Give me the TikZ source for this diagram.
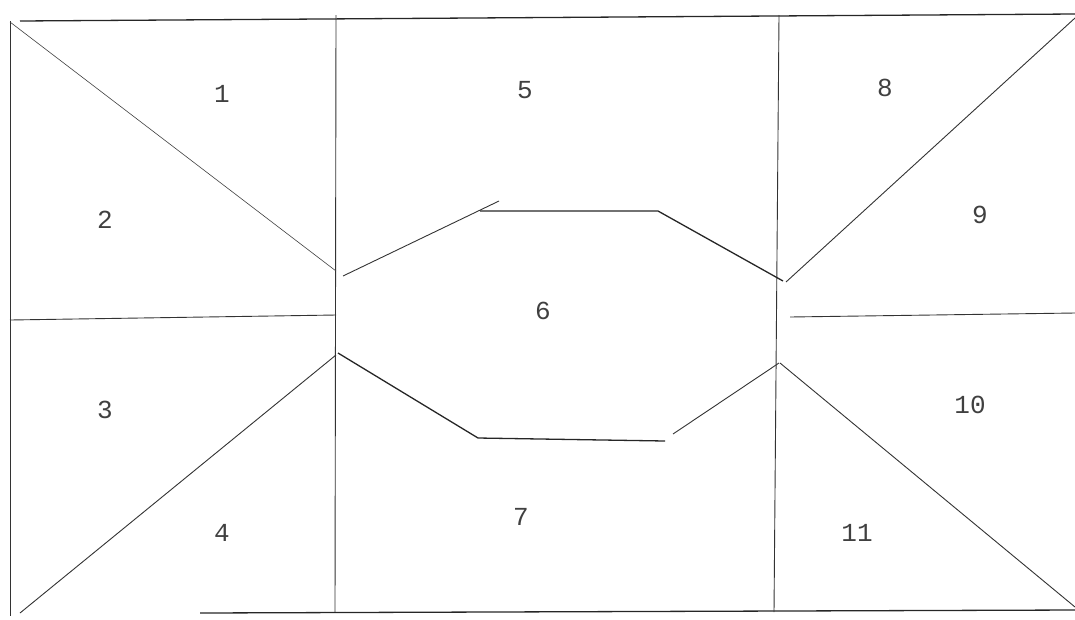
\documentclass[tikz,border=0pt]{standalone}
\usepackage{fontspec}
\setmonofont{Liberation Mono}
\begin{document}
\begin{tikzpicture}[x=1pt,y=-1pt,
  wall/.style={draw=black!80, line width=0.9pt},
  thin/.style={draw=black!75, line width=0.6pt},
  heavy/.style={draw=black!85, line width=1.3pt},
  lbl/.style={font=\ttfamily\fontsize{26}{30}\selectfont, text=black!75, inner sep=0pt}]
\useasboundingbox (0,0) rectangle (1075,619);
% outer border
\draw[heavy] (20,21) -- (1075,14);
\draw[wall] (10,21) -- (10,616);
\draw[heavy] (200,613) -- (1075,610);
% vertical dividers
\draw[wall] (336,15) -- (335,612);
\draw[wall] (779,15) -- (774,612);
% left block
\draw[thin] (10,22) -- (336,271);
\draw[wall] (10,320) -- (336,315);
\draw[wall] (20,613) -- (336,355);
% central octagon
\draw[wall] (343,276) -- (499,201);
\draw[heavy] (480,211) -- (658,211) -- (783,281);
\draw[heavy] (338,353) -- (478,438) -- (665,441);
\draw[wall] (673,434) -- (779,363);
% right block
\draw[wall] (786,282) -- (1075,18);
\draw[wall] (790,317) -- (1075,313);
\draw[wall] (780,363) -- (1075,607);
% labels
\node[lbl] (n1) at (222,94) {1};
\node[lbl] (n2) at (105,220) {2};
\node[lbl] (n3) at (105,410) {3};
\node[lbl] (n4) at (222,533) {4};
\node[lbl] (n5) at (525,90) {5};
\node[lbl] (n6) at (543,311) {6};
\node[lbl] (n7) at (521,517) {7};
\node[lbl] (n8) at (885,88) {8};
\node[lbl] (n9) at (980,215) {9};
\node[lbl] (n10) at (970,405) {10};
\node[lbl] (n11) at (857,533) {11};
\end{tikzpicture}
\end{document}
